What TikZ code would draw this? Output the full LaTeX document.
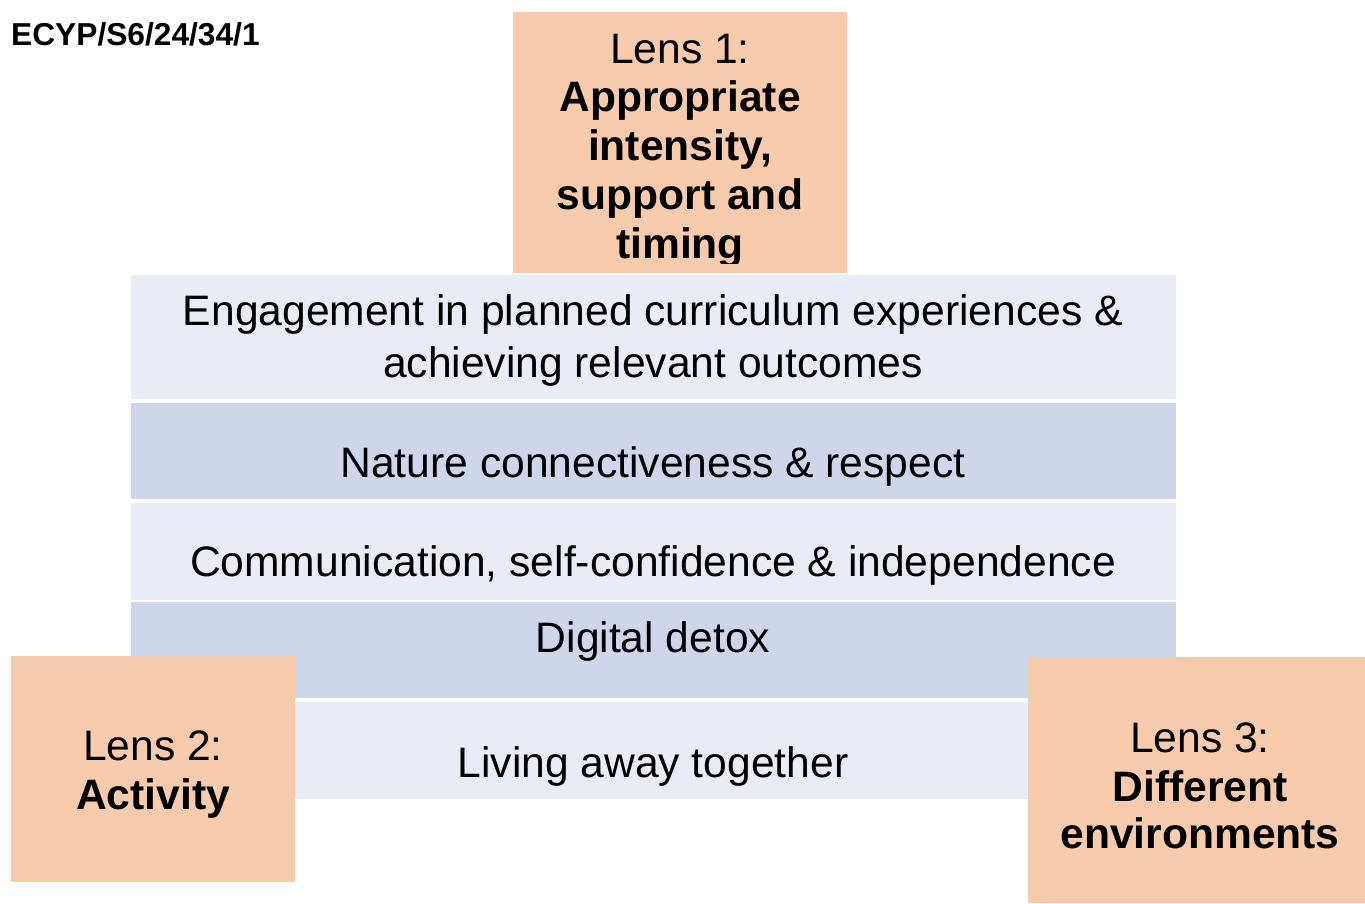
\documentclass[tikz,border=0pt]{standalone}
\usepackage{fontspec}
\setmainfont{Liberation Sans}
\definecolor{peach}{HTML}{F7CBAC}
\definecolor{bandlight}{HTML}{E9EBF5}
\definecolor{banddark}{HTML}{CFD5EA}
\tikzset{
  lensbox/.style={fill=peach, draw=none, inner sep=0pt, anchor=north west},
  bandbox/.style={draw=none, inner sep=0pt, anchor=north west, minimum width=1045pt},
  bigtext/.style={font=\fontsize{42.6}{49}\selectfont, inner sep=0pt, anchor=base},
  bigbold/.style={bigtext, font=\bfseries\fontsize{42.6}{49}\selectfont},
}
\begin{document}
\begin{tikzpicture}[x=1pt,y=-1pt]
\useasboundingbox (0,0) rectangle (1365,903);
\fill[white] (0,0) rectangle (1365,903);
% header
\node[font=\bfseries\fontsize{31.7}{36}\selectfont, inner sep=0pt, anchor=base west] (hdr) at (11,45) {ECYP/S6/24/34/1};
% bands
\node[bandbox, fill=bandlight, minimum height=124pt] (b1) at (131,275) {};
\node[bandbox, fill=banddark, minimum height=96pt] (b2) at (131,403) {};
\node[bandbox, fill=bandlight, minimum height=97pt] (b3) at (131,503) {};
\node[bandbox, fill=banddark, minimum height=96pt] (b4) at (131,602) {};
\node[bandbox, fill=bandlight, minimum height=97pt] (b5) at (131,702) {};
\node[bigtext] (t1a) at (653,325) {Engagement in planned curriculum experiences \&};
\node[bigtext] (t1b) at (653,377) {achieving relevant outcomes};
\node[bigtext] (t2) at (653,477) {Nature connectiveness \& respect};
\node[bigtext] (t3) at (653,576) {Communication, self-confidence \& independence};
\node[bigtext] (t4) at (653,652) {Digital detox};
\node[bigtext] (t5) at (653,777) {Living away together};
% lens 1
\node[lensbox, minimum width=334pt, minimum height=261pt] (l1) at (513,12) {};
\begin{scope}
\clip (513,12) rectangle (847,263);
\node[bigtext] (l1a) at (680,63) {Lens 1:};
\node[bigbold] (l1b) at (680,111) {Appropriate};
\node[bigbold] (l1c) at (680,160) {intensity,};
\node[bigbold] (l1d) at (680,209) {support and};
\node[bigbold] (l1e) at (680,258) {timing};
\end{scope}
% lens 2
\node[lensbox, minimum width=284pt, minimum height=226pt] (l2) at (11,656) {};
\node[bigtext] (l2a) at (153,760) {Lens 2:};
\node[bigbold] (l2b) at (153,809) {Activity};
% lens 3
\node[lensbox, minimum width=337pt, minimum height=246pt] (l3) at (1028,657) {};
\node[bigtext] (l3a) at (1200,752) {Lens 3:};
\node[bigbold] (l3b) at (1200,801) {Different};
\node[bigbold] (l3c) at (1200,848) {environments};
\end{tikzpicture}
\end{document}
